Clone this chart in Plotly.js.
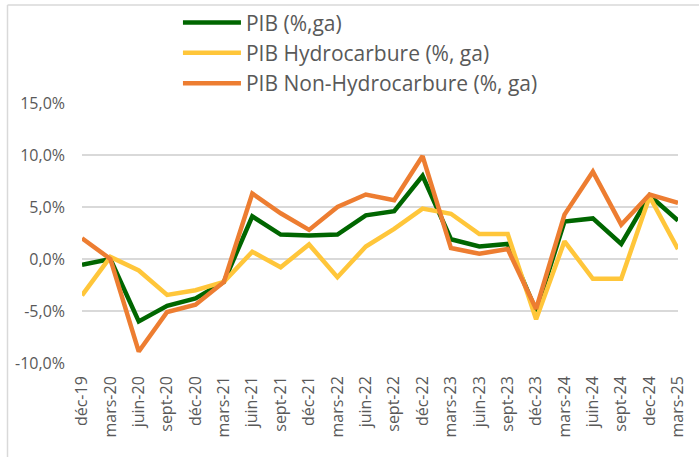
<!DOCTYPE html>
<html>
<head>
<meta charset="utf-8">
<script src="https://cdn.plot.ly/plotly-3.0.1.min.js"></script>
<style>
html,body{margin:0;padding:0;background:#fff;}
#chart{width:699px;height:457px;}
</style>
</head>
<body>
<div id="chart"></div>
<script>
const categories = ['déc-19','mars-20','juin-20','sept-20','déc-20','mars-21','juin-21','sept-21','déc-21','mars-22','juin-22','sept-22','déc-22','mars-23','juin-23','sept-23','déc-23','mars-24','juin-24','sept-24','dec-24','mars-25'];
const pib = [-0.55, 0.0, -6.0, -4.5, -3.8, -2.2, 4.1, 2.35, 2.25, 2.35, 4.2, 4.6, 8.0, 1.9, 1.2, 1.45, -5.0, 3.6, 3.9, 1.45, 6.1, 3.7];
const pibHydro = [-3.5, 0.2, -1.1, -3.45, -3.0, -2.2, 0.7, -0.8, 1.4, -1.75, 1.2, 2.9, 4.85, 4.35, 2.4, 2.4, -5.8, 1.7, -1.9, -1.9, 6.0, 0.95];
const pibNonHydro = [2.0, 0.0, -8.9, -5.1, -4.4, -2.2, 6.3, 4.4, 2.8, 5.0, 6.2, 5.65, 9.9, 1.05, 0.5, 0.95, -4.8, 4.27, 8.4, 3.3, 6.2, 5.4];
const seriesNames = ['PIB (%,ga)', 'PIB Hydrocarbure (%, ga)', 'PIB Non-Hydrocarbure (%, ga)'];
const yTickVals = [-10, -5, 0, 5, 10, 15];
const yTickLabels = ['-10,0%', '-5,0%', '0,0%', '5,0%', '10,0%', '15,0%'];

const colors = ['#006600', '#FFC63A', '#ED7D31'];
const vals = [pib, pibHydro, pibNonHydro];
const traces = vals.map((v, i) => ({
  type: 'scatter', mode: 'lines', x: categories, y: v, name: seriesNames[i],
  line: {color: colors[i], width: 4.5, shape: 'linear'}
}));

const layout = {
  width: 699, height: 457,
  margin: {l: 82, r: 21, t: 103, b: 94, autoexpand: false},
  paper_bgcolor: '#fff', plot_bgcolor: '#fff',
  font: {family: '"Open Sans", sans-serif', color: '#595959'},
  showlegend: true,
  legend: {
    x: 0.161, y: 1.387, xanchor: 'left', yanchor: 'top',
    font: {size: 21, color: '#595959'},
    itemwidth: 58, tracegroupgap: 0, bgcolor: 'rgba(0,0,0,0)'
  },
  xaxis: {
    type: 'category', tickangle: -90, showgrid: false, zeroline: false, showline: false, automargin: false,
    ticks: '', tickfont: {size: 16, color: '#595959'}, ticklabelstandoff: 9
  },
  yaxis: {
    range: [-10, 15], tickmode: 'array', tickvals: yTickVals, ticktext: yTickLabels, automargin: false,
    showgrid: true, gridcolor: '#d9d9d9', gridwidth: 1.3, zeroline: false, showline: false,
    ticks: '', tickfont: {size: 16, color: '#595959'}, ticklabelstandoff: 16
  },
  shapes: [
    {type: 'line', xref: 'paper', yref: 'paper', x0: -0.125, x1: -0.125, y0: 1.377, y1: -0.37, line: {color: '#d9d9d9', width: 1.5}},
    {type: 'line', xref: 'paper', yref: 'paper', x0: -0.125, x1: 1.04, y0: 1.377, y1: 1.377, line: {color: '#d9d9d9', width: 1.5}}
  ]
};

Plotly.newPlot('chart', traces, layout, {displayModeBar: false, staticPlot: true});
</script>
</body>
</html>
